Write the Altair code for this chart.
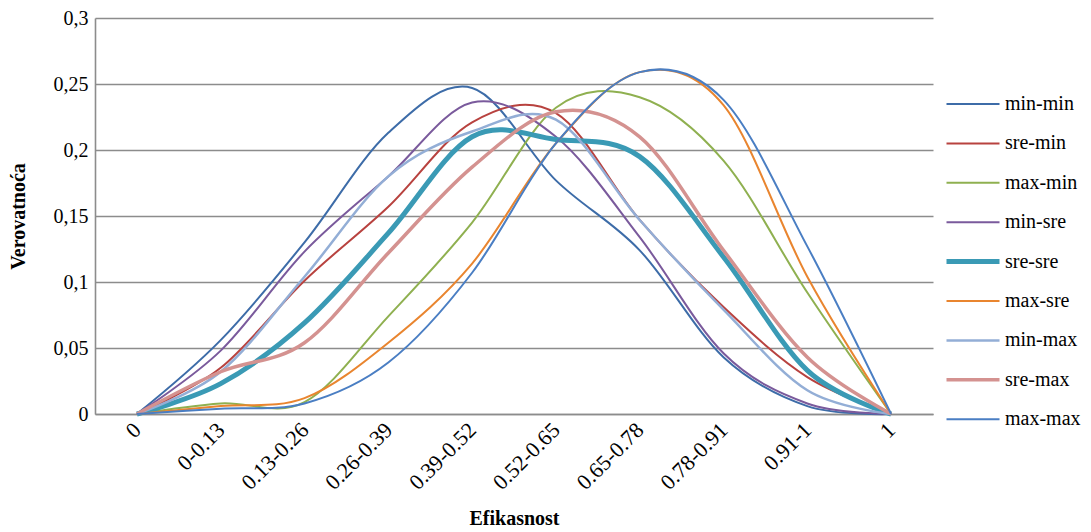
import altair as alt
import pandas as pd

categories = ["0", "0-0.13", "0.13-0.26", "0.26-0.39", "0.39-0.52",
              "0.52-0.65", "0.65-0.78", "0.78-0.91", "0.91-1", "1"]
series_names = ["min-min", "sre-min", "max-min", "min-sre", "sre-sre",
                "max-sre", "min-max", "sre-max", "max-max"]

min_min = [0, 0.056, 0.130, 0.213, 0.247, 0.177, 0.124, 0.043, 0.006, 0]
sre_min = [0, 0.035, 0.101, 0.157, 0.221, 0.228, 0.147, 0.081, 0.028, 0]
max_min = [0, 0.008, 0.009, 0.074, 0.145, 0.232, 0.240, 0.192, 0.092, 0]
min_sre = [0, 0.048, 0.123, 0.180, 0.236, 0.210, 0.134, 0.046, 0.008, 0]
sre_sre = [0, 0.023, 0.069, 0.137, 0.210, 0.208, 0.195, 0.119, 0.033, 0]
max_sre = [0, 0.006, 0.012, 0.054, 0.114, 0.205, 0.259, 0.234, 0.104, 0]
min_max = [0, 0.032, 0.104, 0.180, 0.214, 0.223, 0.147, 0.079, 0.018, 0]
sre_max = [0, 0.032, 0.054, 0.122, 0.187, 0.229, 0.210, 0.124, 0.043, 0]
max_max = [0, 0.004, 0.008, 0.039, 0.107, 0.205, 0.259, 0.238, 0.127, 0]

all_series = [min_min, sre_min, max_min, min_sre, sre_sre,
              max_sre, min_max, sre_max, max_max]

colors = ["#3D6CA8", "#B8423F", "#8FB050", "#7A5A9C", "#3A9AB5",
          "#E9852F", "#93AED6", "#D49290", "#4A7EC3"]
widths = [2, 2, 2, 2, 5, 2, 2.5, 3.5, 2]

rows = []
for name, vals in zip(series_names, all_series):
    for c, v in zip(categories, vals):
        rows.append({"series": name, "cat": c, "value": v})
df = pd.DataFrame(rows)

FONT = "Liberation Serif, DejaVu Serif, serif"
GRID = "#8c8c8c"

legend = alt.Legend(
    title=None,
    orient="none",
    legendX=849,
    legendY=76,
    symbolType="stroke",
    symbolSize=2809,
    clipHeight=20,
    rowPadding=19.4,
    labelFont=FONT,
    labelFontSize=20,
    labelFontWeight="normal",
    labelColor="black",
    labelOffset=3,
)

chart = alt.Chart(df).mark_line(interpolate="cardinal").encode(
    x=alt.X(
        "cat:N",
        sort=categories,
        scale=alt.Scale(domain=categories, padding=0.5),
        axis=alt.Axis(
            title="Efikasnost",
            titleFont=FONT,
            titleFontSize=20,
            titleFontWeight="bold",
            titleColor="black",
            titleY=104,
            titleBaseline="middle",
            labelFont=FONT,
            labelFontSize=22,
            labelFontWeight="normal",
            labelColor="black",
            labelAngle=315,
            labelAlign="right",
            labelBaseline="middle",
            labelPadding=12,
            ticks=False,
            tickSize=0,
            domain=True,
            domainColor=GRID,
            domainWidth=1.6,
            grid=False,
        ),
    ),
    y=alt.Y(
        "value:Q",
        scale=alt.Scale(domain=[0, 0.3], nice=False),
        axis=alt.Axis(
            title="Verovatnoća",
            titleFont=FONT,
            titleFontSize=20,
            titleFontWeight="bold",
            titleColor="black",
            titleAngle=270,
            titleX=-77,
            titleY=198,
            titleAlign="center",
            titleBaseline="middle",
            values=[0, 0.05, 0.1, 0.15, 0.2, 0.25, 0.3],
            labelExpr="replace(format(datum.value, '.2~f'), '.', ',')",
            labelFont=FONT,
            labelFontSize=20,
            labelFontWeight="normal",
            labelColor="black",
            labelPadding=7,
            ticks=False,
            tickSize=0,
            domain=True,
            domainColor=GRID,
            domainWidth=1.6,
            grid=True,
            gridColor=GRID,
            gridWidth=1.6,
        ),
    ),
    color=alt.Color(
        "series:N",
        sort=series_names,
        scale=alt.Scale(domain=series_names, range=colors),
        legend=legend,
    ),
    strokeWidth=alt.StrokeWidth(
        "series:N",
        sort=series_names,
        scale=alt.Scale(type="ordinal", domain=series_names, range=widths),
        legend=legend,
    ),
).properties(
    width=838,
    height=396,
    autosize=alt.AutoSizeParams(type="none"),
    padding={"left": 87, "top": 10, "right": 150, "bottom": 114},
    background="white",
).configure(
    font=FONT
).configure_view(strokeWidth=0)

chart.save("out.html", embed_options={"renderer": "svg", "actions": False})
